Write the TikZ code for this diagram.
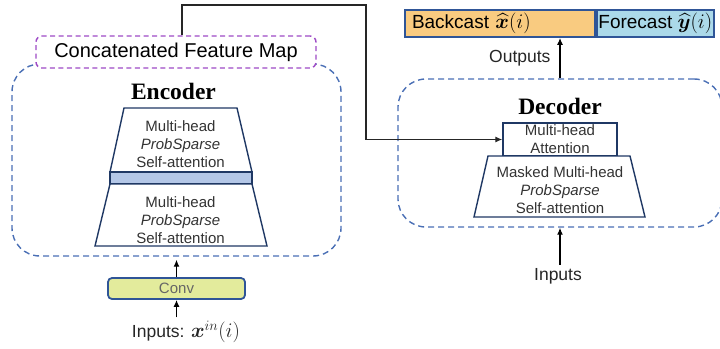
\documentclass[tikz,border=0pt]{standalone}
\usepackage{amsmath}
\usepackage{bm}
\usepackage{fontspec}
\setmainfont{Liberation Sans}
\newfontfamily\titlefont{Liberation Serif}
\usetikzlibrary{positioning, arrows.meta, calc}
\definecolor{dashblue}{HTML}{4A6FB5}
\definecolor{navy}{HTML}{1F3864}
\definecolor{boxblue}{HTML}{2F5597}
\definecolor{cfmpurple}{HTML}{9E4AC6}
\definecolor{barfill}{HTML}{B4C7E7}
\definecolor{convfill}{HTML}{E3EB9C}
\definecolor{backfill}{HTML}{F9CB80}
\definecolor{forefill}{HTML}{ABD9E9}
\definecolor{txtgray}{HTML}{333333}
\newcommand{\bigmath}[2]{{\fontsize{#1}{#1}\selectfont$#2$}}
\tikzset{
	node distance = 4pt,
	>={Latex[length=7pt,width=6pt]},
	arr/.style={
		->,
		line width=1.3pt
	},
	link/.style={
		->,
		line width=1.2pt,
		draw=black!85
	},
	dashbox/.style={
		draw=dashblue,
		dash pattern=on 6pt off 4pt,
		line width=1.4pt,
		rounded corners=28pt,
		inner sep=0pt
	},
	cfmbox/.style={
		draw=cfmpurple,
		dash pattern=on 5pt off 3.5pt,
		line width=1.4pt,
		rounded corners=6pt,
		fill=white,
		minimum width=280pt,
		minimum height=32pt,
		font=\fontsize{20}{24}\selectfont
	},
	trap/.style={
		draw=navy,
		line width=1.4pt,
		fill=white
	},
	blocktext/.style={
		align=center,
		text=txtgray,
		inner sep=0pt,
		font=\fontsize{15}{18}\selectfont
	},
	title/.style={
		font=\titlefont\bfseries\fontsize{23.5}{28}\selectfont
	},
	outbox/.style={
		draw=boxblue,
		line width=1.8pt,
		minimum height=27pt,
		inner ysep=0pt,
		font=\fontsize{19}{22}\selectfont
	},
	label/.style={
		text=black!85,
		font=\fontsize{17.5}{21}\selectfont
	}
}
\begin{document}
\begin{tikzpicture}[x=1pt,y=-1pt]
\useasboundingbox (0,0) rectangle (720,348);

\node[dashbox, minimum width=329pt, minimum height=192pt] (enc) at (176.5,160) {};
\node[cfmbox] (cfm) at (176,52) {Concatenated Feature Map};
\node[title] (enctitle) at (173.5,91) {Encoder};

\draw[trap] (124,108) -- (237,108) -- (252,172) -- (110,172) -- cycle;
\draw[draw=navy, line width=1.8pt, fill=barfill] (110,172) rectangle (252,184);
\draw[trap] (110,184) -- (252,184) -- (267,246) -- (95,246) -- cycle;
\node[blocktext] (encatt1) at (180.5,144) {Multi-head\\\textit{ProbSparse}\\Self-attention};
\node[blocktext] (encatt2) at (180.5,220) {Multi-head\\\textit{ProbSparse}\\Self-attention};

\node[draw=boxblue, line width=1.8pt, rounded corners=4pt, fill=convfill,
	minimum width=137pt, minimum height=21pt, inner sep=0pt,
	text=black!60, font=\fontsize{15}{18}\selectfont] (conv) at (176.5,288.5) {Conv};
\node[label] (inx) at (186,332) {Inputs: \bigmath{21}{\bm{x}^{in}(i)}};

\draw[arr] (conv.south |- inx.north) -- (conv.south);
\draw[arr, shorten >=3pt] (conv.north) -- (enc.south);

\node[dashbox, minimum width=324pt, minimum height=148pt] (dec) at (560,153) {};
\node[title] (dectitle) at (560,106) {Decoder};

\node[draw=navy, line width=1.4pt, minimum width=114pt, minimum height=33pt,
	blocktext] (mha) at (560,139.5) {Multi-head\\Attention};
\draw[trap] (488,156) -- (630,156) -- (645,217) -- (474,217) -- cycle;
\node[blocktext] (decatt) at (560,190) {Masked Multi-head\\\textit{ProbSparse}\\Self-attention};

\node[label] (inp) at (558,276) {Inputs};
\draw[arr] (dec.south |- inp.north) -- (dec.south);

\node[outbox, fill=backfill, text width=176pt, align=left, inner xsep=7pt] (bc) at (500,23.5) {Backcast \bigmath{21}{\bm{\widehat{x}}(i)}};
\node[outbox, fill=forefill, minimum width=117pt, inner xsep=1pt, right=0pt of bc] (fc) {Forecast \bigmath{21}{\bm{\widehat{y}}(i)}};

\draw[arr] (dec.north) -- (dec.north |- bc.south) coordinate[midway] (outmid);
\node[label, left=6pt of outmid] (outlbl) {Outputs};

\draw[link] ([xshift=6pt]cfm.north) |- (366,5) |- (mha.west);
\end{tikzpicture}
\end{document}
